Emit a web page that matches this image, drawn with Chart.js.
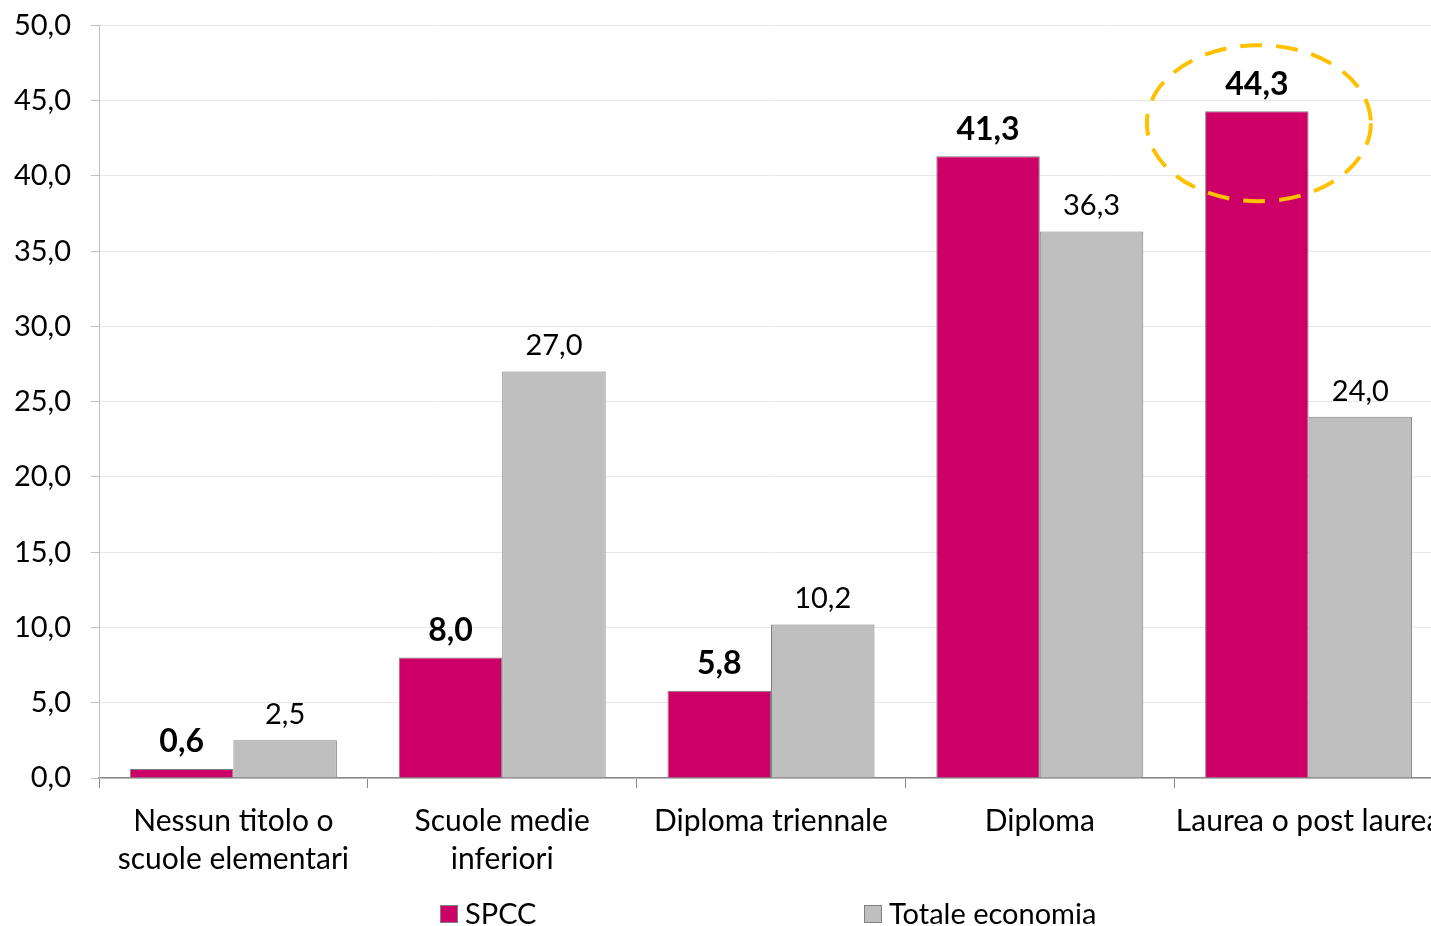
<!DOCTYPE html>
<html>
<head>
<meta charset="utf-8">
<script src="https://cdn.jsdelivr.net/npm/chart.js@4"></script>
<style>
  html, body { margin: 0; padding: 0; background: #fff; overflow: hidden; }
  #wrap { position: relative; width: 1431px; height: 926px; overflow: hidden; }
  #inner { position: absolute; left: 0; top: -12px; width: 1460px; height: 938px; }
</style>
</head>
<body>
<div id="wrap"><div id="inner"><canvas id="titoliChart"></canvas></div></div>
<script>
const categories = [
    ['Nessun titolo o', 'scuole elementari'],
    ['Scuole medie', 'inferiori'],
    'Diploma triennale',
    'Diploma',
    'Laurea o post laurea'
];
const spccValues = [0.6, 8.0, 5.8, 41.3, 44.3];
const totaleValues = [2.5, 27.0, 10.2, 36.3, 24.0];
const seriesNames = ['SPCC', 'Totale economia'];
const yTicks = [0, 5, 10, 15, 20, 25, 30, 35, 40, 45, 50];

const fmt = v => v.toFixed(1).replace('.', ',');

// value labels above bars (bold for SPCC)
const valueLabels = {
    id: 'valueLabels',
    afterDatasetsDraw(chart) {
        const ctx = chart.ctx;
        ctx.save();
        ctx.textAlign = 'center';
        ctx.textBaseline = 'bottom';
        chart.data.datasets.forEach((ds, i) => {
            const meta = chart.getDatasetMeta(i);
            ctx.font = i === 0 ? 'bold 32px Lato' : '29px Lato';
            ctx.fillStyle = '#000';
            meta.data.forEach((bar, j) => {
                ctx.fillText(fmt(ds.data[j]), bar.x, bar.y - 11);
            });
        });
        // dashed highlight around the last SPCC bar
        const hl = chart.getDatasetMeta(0).data[4];
        ctx.beginPath();
        ctx.ellipse(hl.x + 2, hl.y + 12, 112, 78, 0, 0, Math.PI * 2);
        ctx.setLineDash([22, 14]);
        ctx.lineWidth = 4;
        ctx.strokeStyle = '#FFC000';
        ctx.stroke();
        ctx.restore();
    }
};

// bottom legend, wide spacing like the original
const bottomLegend = {
    id: 'bottomLegend',
    afterDraw(chart) {
        const ctx = chart.ctx;
        const xs = [440, 864];
        const y = 926;
        ctx.save();
        ctx.font = '29px Lato';
        ctx.textBaseline = 'middle';
        chart.data.datasets.forEach((ds, i) => {
            ctx.fillStyle = ds.backgroundColor;
            ctx.fillRect(xs[i], y - 9, 18, 18);
            ctx.strokeStyle = '#808080';
            ctx.lineWidth = 1;
            ctx.strokeRect(xs[i] + 0.5, y - 8.5, 17, 17);
            ctx.fillStyle = '#000';
            ctx.fillText(ds.label, xs[i] + 25, y + 1);
        });
        ctx.restore();
    }
};

const ctx = document.getElementById('titoliChart').getContext('2d');
const titoliChart = new Chart(ctx, {
    type: 'bar',
    data: {
        labels: categories,
        datasets: [{
            label: seriesNames[0],
            data: spccValues,
            backgroundColor: '#CC0066',
            borderColor: '#808080',
            borderWidth: 1
        }, {
            label: seriesNames[1],
            data: totaleValues,
            backgroundColor: '#BFBFBF',
            borderColor: '#808080',
            borderWidth: 1
        }]
    },
    options: {
        responsive: true,
        maintainAspectRatio: false,
        animation: false,
        layout: { padding: { left: 0, right: 17, top: 14, bottom: 0 } },
        datasets: {
            bar: { categoryPercentage: 0.77, barPercentage: 1.0 }
        },
        plugins: {
            legend: { display: false },
            tooltip: { enabled: false }
        },
        scales: {
            x: {
                afterFit(scale) { scale.height = 148; },
                grid: {
                    offset: true,
                    drawOnChartArea: false,
                    tickLength: 10,
                    color: '#888'
                },
                border: { color: '#888', width: 1.5 },
                ticks: {
                    color: '#000',
                    font: { family: 'Lato', size: 30, lineHeight: 1.27 },
                    padding: 14,
                    maxRotation: 0,
                    autoSkip: false
                }
            },
            y: {
                min: 0,
                max: 50,
                afterFit(scale) { scale.width = 99; },
                afterBuildTicks(scale) { scale.ticks = yTicks.map(v => ({ value: v })); },
                grid: { color: '#e8e8e8', tickLength: 8, tickColor: '#bfbfbf' },
                border: { color: '#bfbfbf' },
                ticks: {
                    color: '#000',
                    font: { family: 'Lato', size: 29 },
                    padding: 20,
                    callback: v => fmt(v)
                }
            }
        }
    },
    plugins: [valueLabels, bottomLegend]
});
</script>
</body>
</html>
